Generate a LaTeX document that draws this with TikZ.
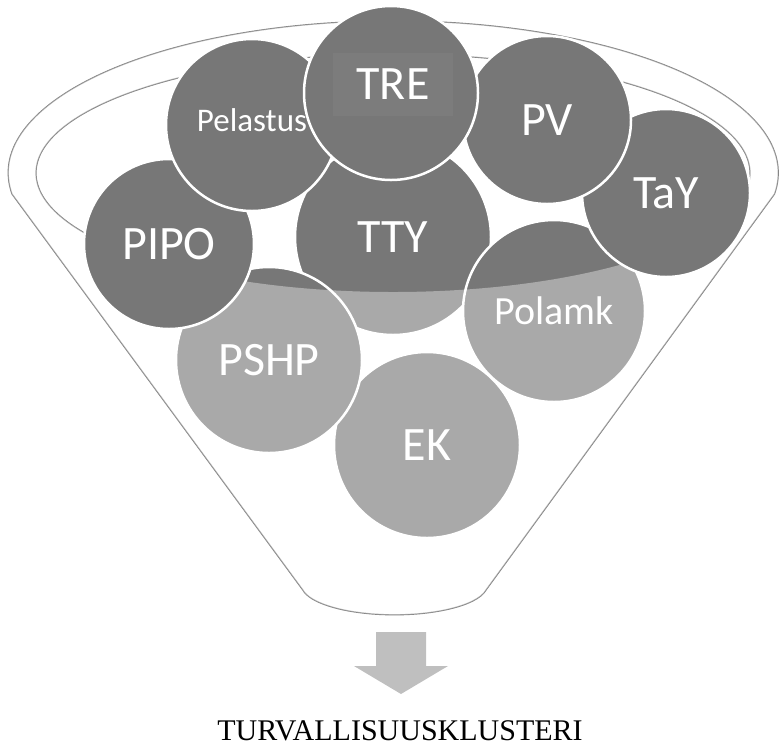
\documentclass[tikz,border=0pt]{standalone}
\usepackage{fontspec}
\setmainfont{Carlito}
\newfontfamily\captionfont{Liberation Serif}
\usepackage{xcolor}
\definecolor{ballgray}{HTML}{777777}
\definecolor{rimgray}{HTML}{7F7F7F}
\definecolor{arrowgray}{HTML}{BFBFBF}
\tikzstyle{ball} = [circle, draw=white, line width=2.5pt, fill=ballgray,
                    text=white, inner sep=0pt, font=\fontsize{48}{48}\selectfont]
\tikzstyle{rim} = [draw=rimgray, line width=1.2pt]

\begin{document}
\begin{tikzpicture}[x=1pt,y=-1pt]
    \useasboundingbox (0,0) rectangle (783,748);
    \coordinate (lefttop) at (12,194);
    \coordinate (rightbot) at (486,590);
    % funnel outline
    \draw[rim] (lefttop) arc[start angle=172, end angle=368, x radius=385, y radius=152] -- (rightbot) arc[start angle=10, end angle=170, x radius=93, y radius=30] -- cycle;
    \draw[rim] (393,173) ellipse[x radius=357, y radius=119];
    % balls inside the funnel
    \node[ball, minimum size=186pt] (ek) at (427,445) {EK};
    \node[ball, minimum size=196pt] (tty) at (393,237) {TTY};
    \node[ball, minimum size=182pt, font=\fontsize{40}{40}\selectfont] (polamk) at (554,311) {Polamk};
    \node[ball, minimum size=186pt] (pshp) at (269,360) {PSHP};
    \fill[white, fill opacity=0.37, even odd rule] (lefttop) arc[start angle=172, end angle=368, x radius=385, y radius=152] -- (rightbot) arc[start angle=10, end angle=170, x radius=93, y radius=30] -- cycle (393,173) ellipse[x radius=357, y radius=119];
    % balls on the rim
    \node[ball, minimum size=170pt] (pipo) at (169,244) {PIPO};
    \node[ball, minimum size=172pt, text depth=10pt, font=\fontsize{33}{33}\selectfont] (pelastus) at (252,125) {Pelastus};
    \node[ball, minimum size=168pt] (tay) at (666,193) {TaY};
    \node[ball, minimum size=168pt] (pv) at (547,120) {PV};
    \node[ball, minimum size=174pt] (tre) at (391,93) {};
    \node[fill=ballgray!96!white, text=white, minimum width=120pt, minimum height=63pt,
          font=\fontsize{48}{48}\selectfont] (trebox) at (393,84) {TRE};
    % arrow and result
    \fill[arrowgray] (376,632) -- (426,632) -- (426,666) -- (448,666) -- (401,694) -- (354,666) -- (376,666) -- cycle;
    \node[inner sep=0pt, font=\captionfont\fontsize{30}{30}\selectfont] (cluster) at (400,731) {TURVALLISUUSKLUSTERI};
\end{tikzpicture}
\end{document}
